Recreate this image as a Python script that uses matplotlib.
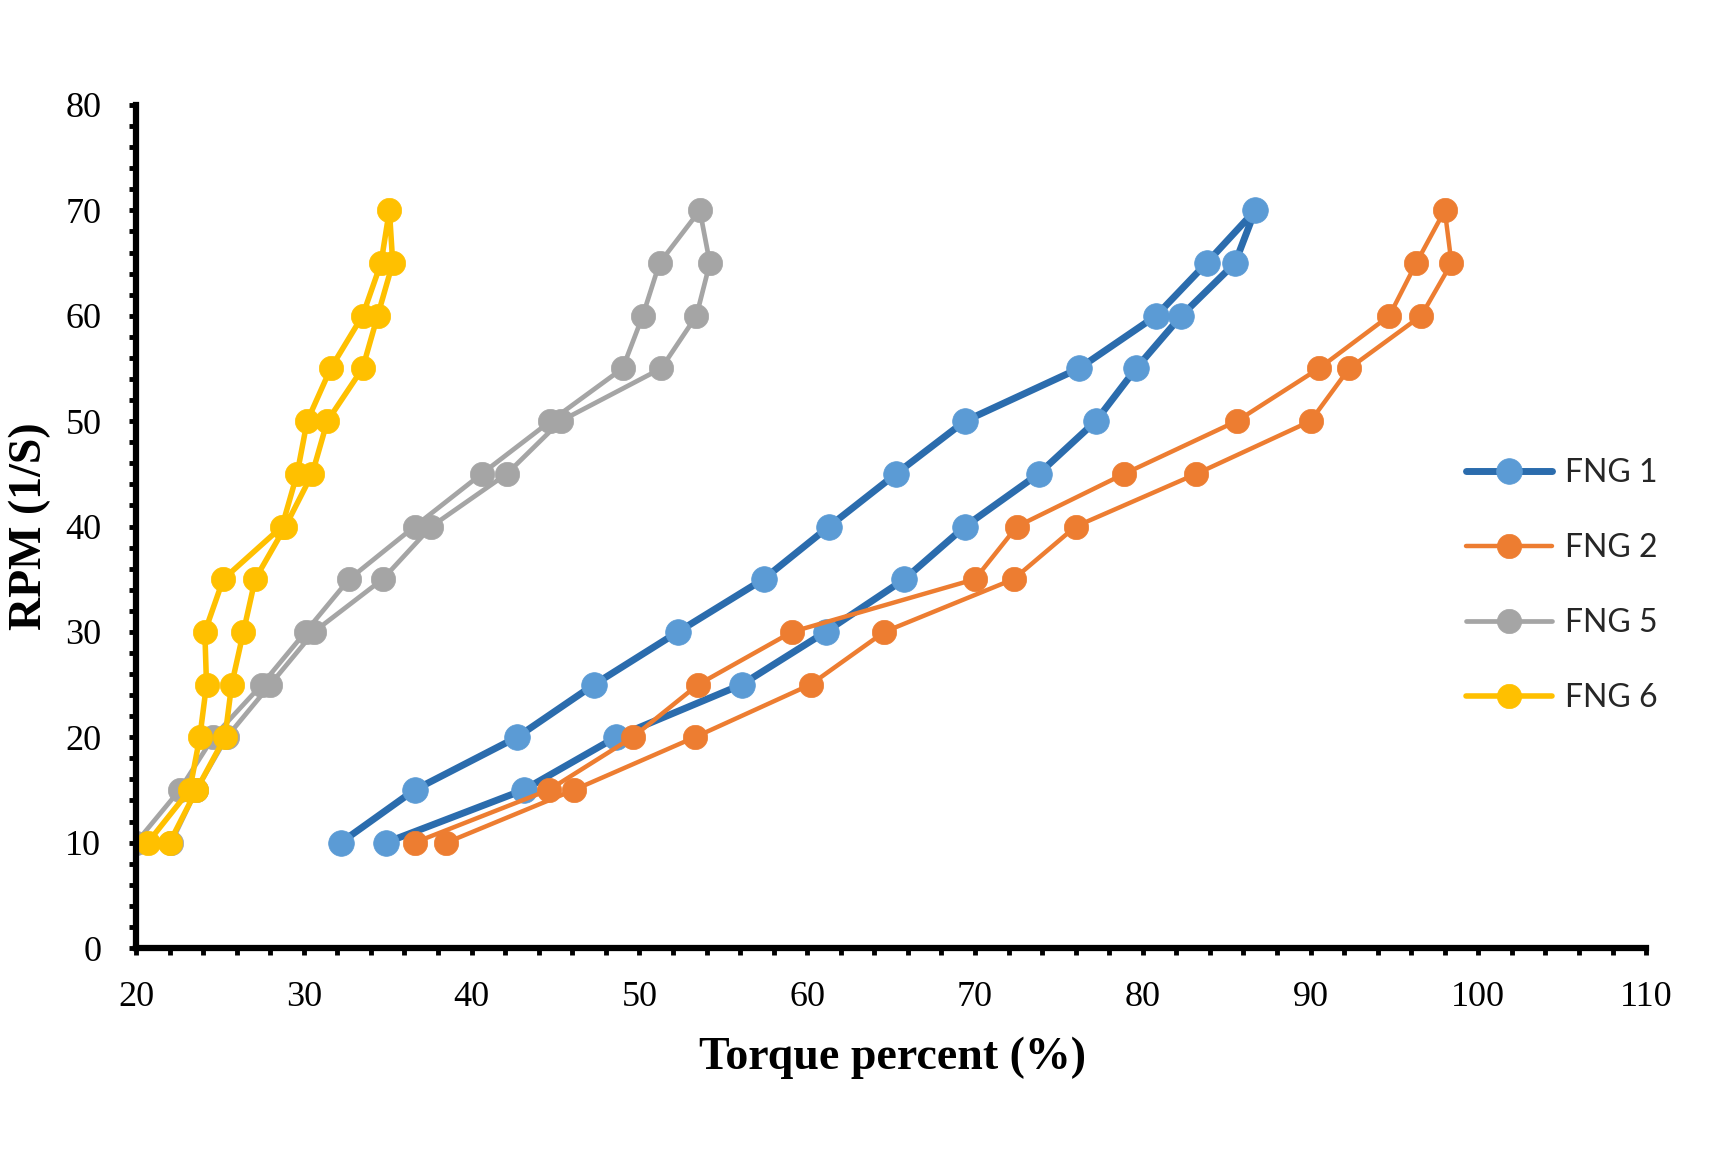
import numpy as np
import matplotlib
matplotlib.use("Agg")
import matplotlib.pyplot as plt
from matplotlib.ticker import MultipleLocator

# RPM steps: up from 10 to 70, then back down to 10
rpm = [10, 15, 20, 25, 30, 35, 40, 45, 50, 55, 60, 65, 70,
       65, 60, 55, 50, 45, 40, 35, 30, 25, 20, 15, 10]

fng1 = [32.2, 36.6, 42.7, 47.3, 52.3, 57.4, 61.3, 65.3, 69.4, 76.2, 80.8, 83.8, 86.7,
        85.5, 82.3, 79.6, 77.2, 73.8, 69.4, 65.8, 61.1, 56.1, 48.6, 43.1, 34.9]
fng2 = [36.6, 44.6, 49.6, 53.5, 59.1, 70.0, 72.5, 78.9, 85.6, 90.5, 94.7, 96.3, 98.0,
        98.4, 96.6, 92.3, 90.0, 83.2, 76.0, 72.3, 64.6, 60.2, 53.3, 46.1, 38.5]
fng5 = [20.0, 22.6, 24.6, 27.5, 30.1, 32.7, 36.6, 40.6, 44.7, 49.0, 50.2, 51.2, 53.6,
        54.2, 53.4, 51.3, 45.3, 42.1, 37.6, 34.7, 30.6, 28.0, 25.4, 23.6, 22.1]
fng6 = [20.7, 23.2, 23.8, 24.2, 24.1, 25.2, 28.7, 29.6, 30.2, 31.6, 33.5, 34.6, 35.1,
        35.3, 34.4, 33.5, 31.4, 30.5, 28.9, 27.1, 26.4, 25.7, 25.3, 23.6, 22.0]

labels = ["FNG 1", "FNG 2", "FNG 5", "FNG 6"]

fig = plt.figure(figsize=(17.09, 11.73), dpi=100)
ax = fig.add_axes([0.0796, 0.1918, 0.9632 - 0.0796, 0.9105 - 0.1918])

# line colour, marker colour, line width, marker size
styles = [("#2B6CAD", "#5B9BD5", 5.0, 18.5),
          ("#ED7D31", "#ED7D31", 3.2, 17.5),
          ("#A5A5A5", "#A5A5A5", 3.4, 17.5),
          ("#FFC000", "#FFC000", 4.0, 17.5)]

for xs, lab, (lc, mc, lw, ms) in zip([fng1, fng2, fng5, fng6], labels, styles):
    ax.plot(xs, rpm, color=lc, lw=lw, marker="o", markersize=ms,
            markerfacecolor=mc, markeredgecolor=mc, markeredgewidth=0.5,
            label=lab, solid_capstyle="round", solid_joinstyle="round")

ax.set_xlim(20, 110)
ax.set_ylim(0, 80)
ax.xaxis.set_major_locator(MultipleLocator(10))
ax.xaxis.set_minor_locator(MultipleLocator(2))
ax.yaxis.set_major_locator(MultipleLocator(10))
ax.yaxis.set_minor_locator(MultipleLocator(2))

for s in ["top", "right"]:
    ax.spines[s].set_visible(False)
for s in ["left", "bottom"]:
    ax.spines[s].set_linewidth(4.5)
    ax.spines[s].set_capstyle("projecting")

ax.tick_params(which="both", direction="out", length=5, width=3.5, color="black")
ax.tick_params(axis="x", which="major", pad=19, labelsize=26)
ax.tick_params(axis="y", which="major", pad=20, labelsize=26)
for t in ax.get_xticklabels() + ax.get_yticklabels():
    t.set_fontfamily("Liberation Serif")

ax.set_xlabel("Torque percent (%)", fontsize=33, fontweight="bold", family="Liberation Serif")
ax.set_ylabel("RPM (1/S)", fontsize=33, fontweight="bold", family="Liberation Serif")
ax.xaxis.set_label_coords(0.501, -0.105)
ax.yaxis.set_label_coords(-0.056, 0.5)

leg = ax.legend(loc="center left", bbox_to_anchor=(0.8578, 0.501),
                bbox_transform=fig.transFigure, frameon=False,
                prop={"family": "Lato", "size": 23}, handlelength=2.7,
                handletextpad=0.4, labelspacing=1.41, borderpad=0, borderaxespad=0)
for t in leg.get_texts():
    t.set_color("#262626")

fig.savefig("out.png", dpi=100)
